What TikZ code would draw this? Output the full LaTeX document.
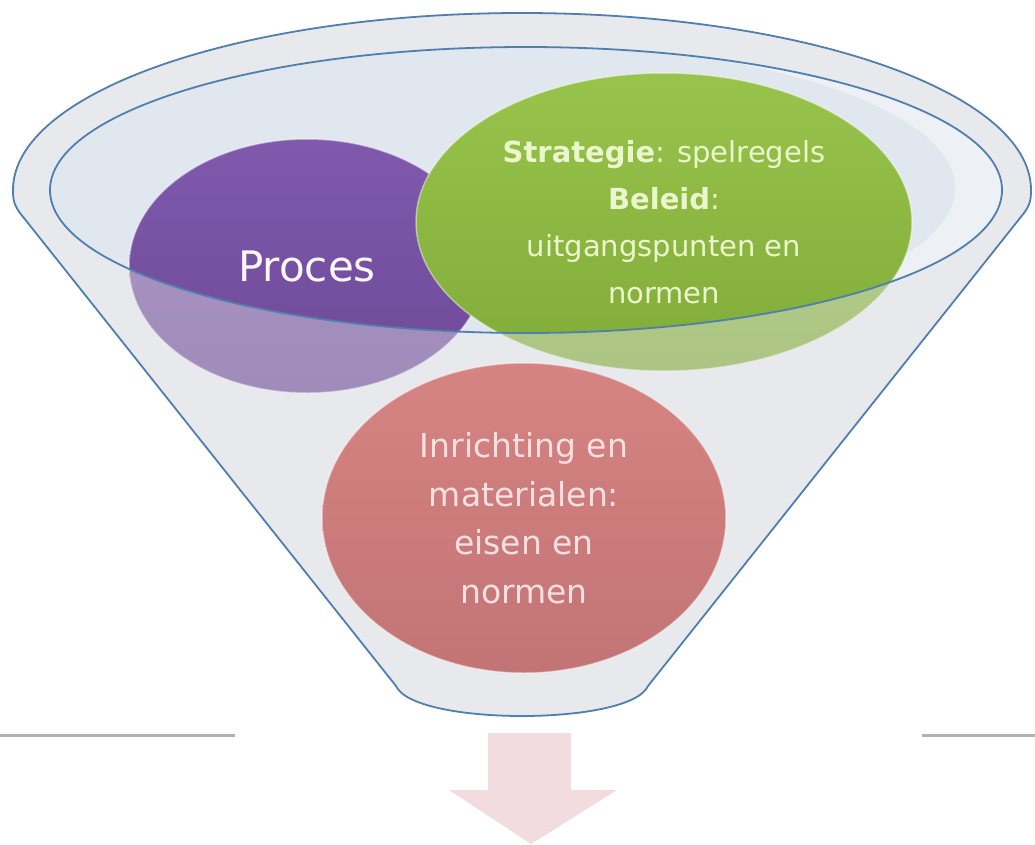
\documentclass[tikz,border=0pt]{standalone}
\usepackage{fontspec}
\setmainfont{DejaVu Sans}
\usepackage{tikz}
\usetikzlibrary{shapes,positioning}

\definecolor{rimblue}{HTML}{4F7FAE}
\definecolor{funnelgray}{HTML}{E8E9EC}
\definecolor{bowllight}{HTML}{EDF1F5}
\definecolor{bowlblue}{HTML}{E0E7EF}
\definecolor{arrowpink}{HTML}{F3DCDF}
\definecolor{procestop}{HTML}{8059AD}
\definecolor{procesbottom}{HTML}{6C4996}
\definecolor{strattop}{HTML}{98C44C}
\definecolor{stratbottom}{HTML}{80AB38}
\definecolor{inrichttop}{HTML}{D68383}
\definecolor{inrichtbottom}{HTML}{C27474}

\newcommand{\funneloutline}{(13,190) .. controls (13,92) and (241,13) .. (522,13)
      .. controls (803,13) and (1031,92) .. (1031,190)
      .. controls (1031,202) and (1029,206) .. (1024,213) -- (648,686)
      .. controls (630,726) and (414,726) .. (396,686) -- (20,213)
      .. controls (15,206) and (13,202) .. (13,190) -- cycle}
\newcommand{\bowl}{(526,190) ellipse [x radius=476, y radius=143]}

\begin{document}
\begin{tikzpicture}[x=1pt, y=-1pt,
                   blob/.style={ellipse, inner sep=0pt, align=center, shading=axis,
                                draw=white, draw opacity=0.45, line width=1.5pt},
                   rimline/.style={draw=rimblue, line width=1.8pt},
                   hline/.style={draw=black!30, line width=3pt}]
  \useasboundingbox (0,0) rectangle (1035,844);
  \fill[white] (0,0) rectangle (1035,844);

  % funnel body and opening
  \fill[funnelgray] \funneloutline;
  \begin{scope}
    \clip \bowl;
    \fill[bowllight] (0,0) rectangle (1035,400);
    \fill[bowlblue] (500,188) ellipse [x radius=455, y radius=146];
  \end{scope}

  \node[blob, minimum width=356pt, minimum height=254pt,
        top color=procestop, bottom color=procesbottom,
        text=white!97!violet, font={\fontsize{42}{50}\selectfont}]
        (proces) at (307,266) {Proces};
  \node[blob, minimum width=496pt, minimum height=298pt,
        top color=strattop, bottom color=stratbottom,
        text=yellow!12!white!92!green, font={\fontsize{29}{47}\selectfont}]
        (strategie) at (664,222)
        {\textbf{Strategie}: spelregels\\ \textbf{Beleid}:\\ uitgangspunten en\\ normen};

  % front wall of the funnel
  \fill[funnelgray, opacity=0.42, even odd rule] \funneloutline \bowl;

  \node[blob, minimum width=404pt, minimum height=310pt,
        top color=inrichttop, bottom color=inrichtbottom,
        text=red!12!white, font={\fontsize{33}{48.5}\selectfont}]
        (inrichting) at (524,518)
        {Inrichting en\\ materialen:\\ eisen en\\ normen};

  \draw[rimline] \funneloutline;
  \draw[rimline] \bowl;

  \draw[hline] (0,735) -- (235,735);
  \draw[hline] (922,735) -- (1035,735);

  \fill[arrowpink] (488,733) -- (571,733) -- (571,790) -- (617,790)
        -- (531,844) -- (449,790) -- (488,790) -- cycle;
\end{tikzpicture}
\end{document}
